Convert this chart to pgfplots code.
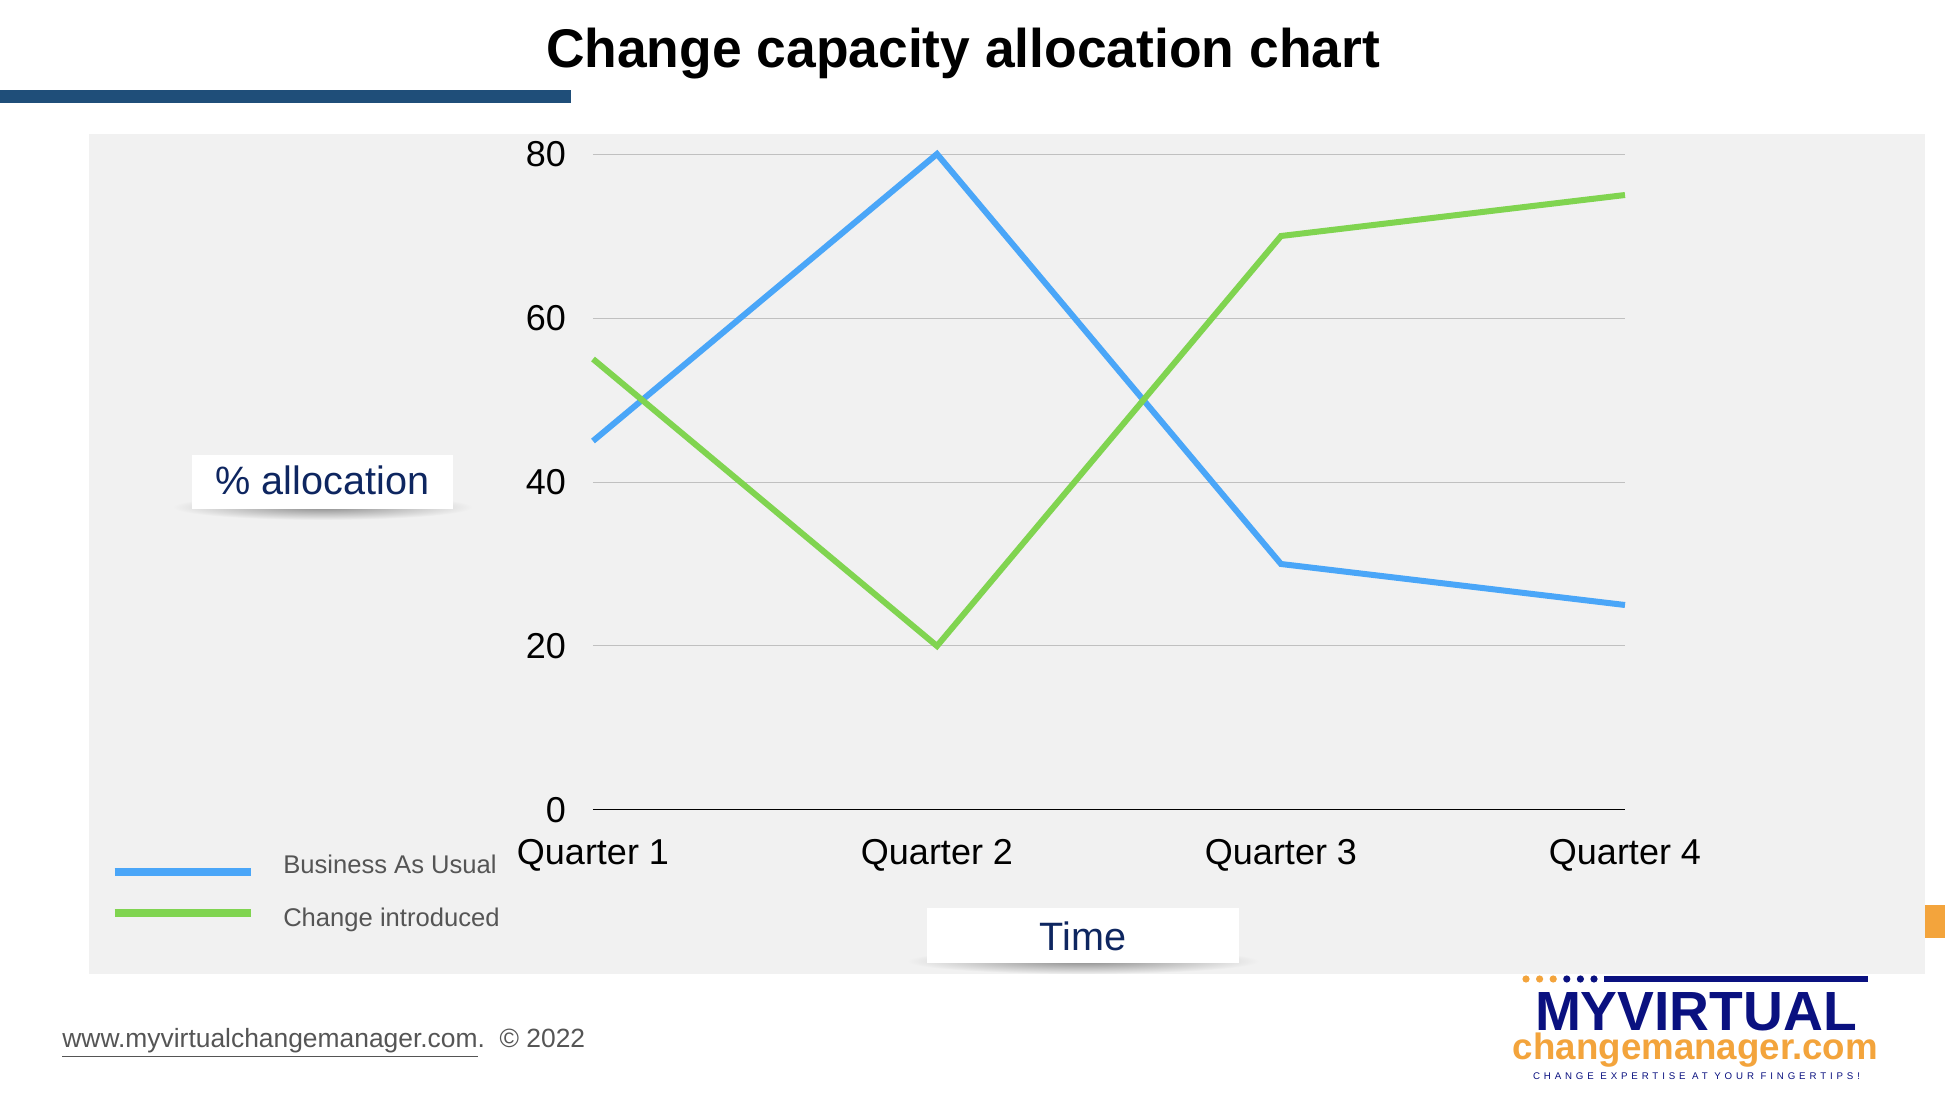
\documentclass[border=0pt]{standalone}
\usepackage{pgfplots}
\pgfplotsset{compat=1.18}
\usepackage{pgfplotstable}
\usepackage{fontspec}
\setmainfont{Liberation Sans}
\definecolor{bau}{HTML}{4AA6F8}
\definecolor{chg}{HTML}{80D450}
\definecolor{panel}{HTML}{F1F1F1}
\definecolor{gridc}{HTML}{C0C0C0}
\definecolor{barblue}{HTML}{1F4E79}
\definecolor{navy}{HTML}{0E2660}
\definecolor{logonavy}{HTML}{0A1180}
\definecolor{logoorange}{HTML}{F3A43C}
\definecolor{foot}{HTML}{555555}
\pgfplotstableread{
q bau chg
0 45 55
1 80 20
2 30 70
3 25 75
}\datatable
\begin{document}
\begin{tikzpicture}[x=0.5pt,y=0.5pt]
\useasboundingbox (0,0) rectangle (1945,1103);
\fill[white] (0,0) rectangle (1945,1103);
% panel
\fill[panel] (89,129) rectangle (1925,969);
% top-left bar
\fill[barblue] (0,1000) rectangle (571,1013);
% orange square at right
\fill[logoorange] (1925,165) rectangle (1945,198);
% title
\node[anchor=base, inner sep=0pt] at (963,1035)
  {\resizebox*{417pt}{25.5pt}{\bfseries Change capacity allocation chart}};

% label boxes with soft shadow
\shade[inner color=black!45, outer color=panel] (322.5,596) ellipse (150 and 13);
\shade[inner color=black!45, outer color=panel] (1083,142) ellipse (176 and 13);
\fill[white] (192,594) rectangle (453,648);
\node[anchor=base, inner sep=0pt, text=navy, font=\fontsize{19.8}{23}\selectfont] at (322.5,608) {\% allocation};
\fill[white] (927,140) rectangle (1239,195);
\node[anchor=base, inner sep=0pt, text=navy, font=\fontsize{19.8}{23}\selectfont] at (1083,152) {Time};

\begin{axis}[
  at={(296.5pt,146.5pt)}, anchor=south west,
  scale only axis, width=516pt, height=328pt,
  xmin=0, xmax=3, ymin=0, ymax=80,
  clip=false,
  axis x line*=bottom, axis y line*=left,
  x axis line style={black, line width=0.5pt, -},
  y axis line style={draw=none},
  major tick length=0pt,
  ymajorgrids, grid style={gridc, line width=0.5pt},
  ytick={0,20,40,60,80},
  xtick={0,1,2,3}, xticklabels={Quarter 1,Quarter 2,Quarter 3,Quarter 4},
  tick label style={font=\fontsize{18}{21}\selectfont, text=black},
  /pgf/number format/assume math mode=true,
  yticklabel style={xshift=-10pt},
  xticklabel style={yshift=-11pt},
  legend cell align=left,
  legend style={at={(-0.4670,-0.0686)}, anchor=north west, draw=none, fill=none,
    inner sep=0pt, outer sep=0pt, row sep=14.5pt, column sep=14.5pt,
    font=\fontsize{12.8}{15}\selectfont,
    nodes={inner sep=0pt, text=foot, text height=9pt, text depth=3pt}},
  legend image code/.code={\draw[#1, line width=3.6pt] (0pt,0pt) -- (68pt,0pt);},
]
\addplot[bau, line width=3pt, line join=miter, legend image post style={yshift=-2.5pt}] table[x=q, y=bau] {\datatable};
\addlegendentry{Business As Usual}
\addplot[chg, line width=3pt, line join=miter, legend image post style={yshift=3.5pt}] table[x=q, y=chg] {\datatable};
\addlegendentry{Change introduced}
\end{axis}

% footer
\node[anchor=base west, inner sep=0pt, text=foot, font=\fontsize{13.2}{16}\selectfont] at (62,1103-1048)
  {\underline{www.myvirtualchangemanager.com}.\ \ \textcopyright\ 2022};

% logo
\foreach \i/\c in {0/logoorange,1/logoorange,2/logoorange,3/logonavy,4/logonavy,5/logonavy}{
  \fill[\c] (1526+\i*13.6,124) circle (3.6);
}
\fill[logonavy] (1604,121) rectangle (1868,127);
\node[anchor=base, inner sep=0pt, text=logonavy] at (1696,1103-1031)
  {\resizebox{161pt}{!}{\bfseries MYVIRTUAL}};
\node[anchor=base, inner sep=0pt, text=logoorange] at (1695.5,1103-1060)
  {\resizebox{182.5pt}{!}{\bfseries changemanager.com}};
\node[anchor=base, inner sep=0pt, text=logonavy] at (1696.5,1103-1080)
  {\resizebox{163.5pt}{!}{\fontspec{Liberation Sans}[LetterSpace=40]\tiny CHANGE EXPERTISE AT YOUR FINGERTIPS!}};
\end{tikzpicture}
\end{document}
